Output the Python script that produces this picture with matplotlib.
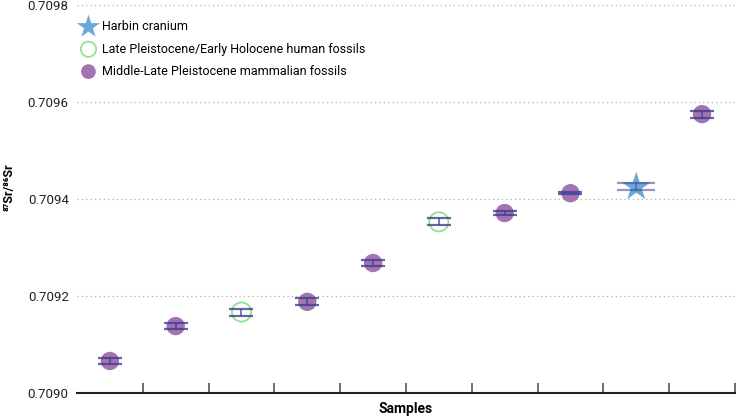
import matplotlib
matplotlib.use("Agg")
import matplotlib.pyplot as plt
import numpy as np

plt.rcParams['font.family'] = ['Roboto', 'DejaVu Sans']

# samples in order along the x axis
groups = ["mammal", "mammal", "human", "mammal", "mammal",
          "human", "mammal", "mammal", "harbin", "mammal"]
sr_ratio = [0.709066, 0.709138, 0.709167, 0.709188, 0.709268,
            0.709353, 0.709371, 0.709412, 0.709425, 0.709575]
sr_err = [0.0000072, 0.0000070, 0.0000072, 0.0000075, 0.0000070,
          0.0000070, 0.0000035, 0.0000025, 0.0000072, 0.0000072]
y_ticks = [0.7090, 0.7092, 0.7094, 0.7096, 0.7098]

fig = plt.figure(figsize=(7.36, 4.18), dpi=100)
ax = fig.add_axes([0.1046, 0.0598, 0.8940, 0.9282])

x = np.arange(len(sr_ratio))
g = np.array(groups)
y = np.array(sr_ratio)
e = np.array(sr_err)

m = g == "mammal"
ax.scatter(x[m], y[m], s=175, color="#9a64a8", alpha=0.9,
           edgecolors="none", zorder=3,
           label="Middle-Late Pleistocene mammalian fossils")
h = g == "human"
ax.scatter(x[h], y[h], s=190, facecolors="none",
           edgecolors="#92e092", linewidths=1.3, zorder=3,
           label="Late Pleistocene/Early Holocene human fossils")
s = g == "harbin"
ax.scatter(x[s], y[s], s=480, marker="*", color="#6aa9dc",
           edgecolors="none", zorder=3, label="Harbin cranium")

nb = ~s
ax.errorbar(x[nb], y[nb], yerr=e[nb], fmt="none", ecolor="#3c3f90",
            elinewidth=1.2, capsize=8.6, capthick=1.6, alpha=0.8, zorder=4)
ax.errorbar(x[s], y[s], yerr=e[s], fmt="none", ecolor="#3c3f90",
            elinewidth=1.2, capsize=14, capthick=1.6, alpha=0.55, zorder=4)

ax.set_xlim(-0.5, len(sr_ratio) - 0.5)
ax.set_ylim(0.7090, 0.7098)
ax.set_yticks(y_ticks)
ax.set_yticklabels([f"{v:.4f}" for v in y_ticks], fontsize=9.5, color="#222222")
ax.set_xticks(np.arange(1, len(sr_ratio) + 1) - 0.5)
ax.set_xticklabels([])
ax.tick_params(axis="x", direction="in", length=7, width=1.2, color="#555555")
ax.tick_params(axis="y", length=0, pad=6)

ax.yaxis.grid(True, linestyle=(0, (1, 2.5)), color="#b0b0b0", linewidth=0.9)
ax.set_axisbelow(True)
for sp in ["top", "right", "left"]:
    ax.spines[sp].set_visible(False)
ax.spines["bottom"].set_linewidth(1.5)
ax.spines["bottom"].set_color("#222222")

ax.set_xlabel("Samples", fontsize=10, fontweight="bold", labelpad=3)
ax.set_ylabel("⁸⁷Sr/⁸⁶Sr", fontsize=9, fontweight="bold")
ax.yaxis.set_label_coords(-0.094, 0.53)

handles, labels = ax.get_legend_handles_labels()
order = [2, 1, 0]
ax.legend([handles[i] for i in order], [labels[i] for i in order],
          loc="upper left", bbox_to_anchor=(-0.012, 0.99), frameon=False,
          fontsize=9, handletextpad=0.4, labelspacing=0.75,
          markerscale=0.8, handlelength=1.3)

plt.savefig("out.png", dpi=100)
